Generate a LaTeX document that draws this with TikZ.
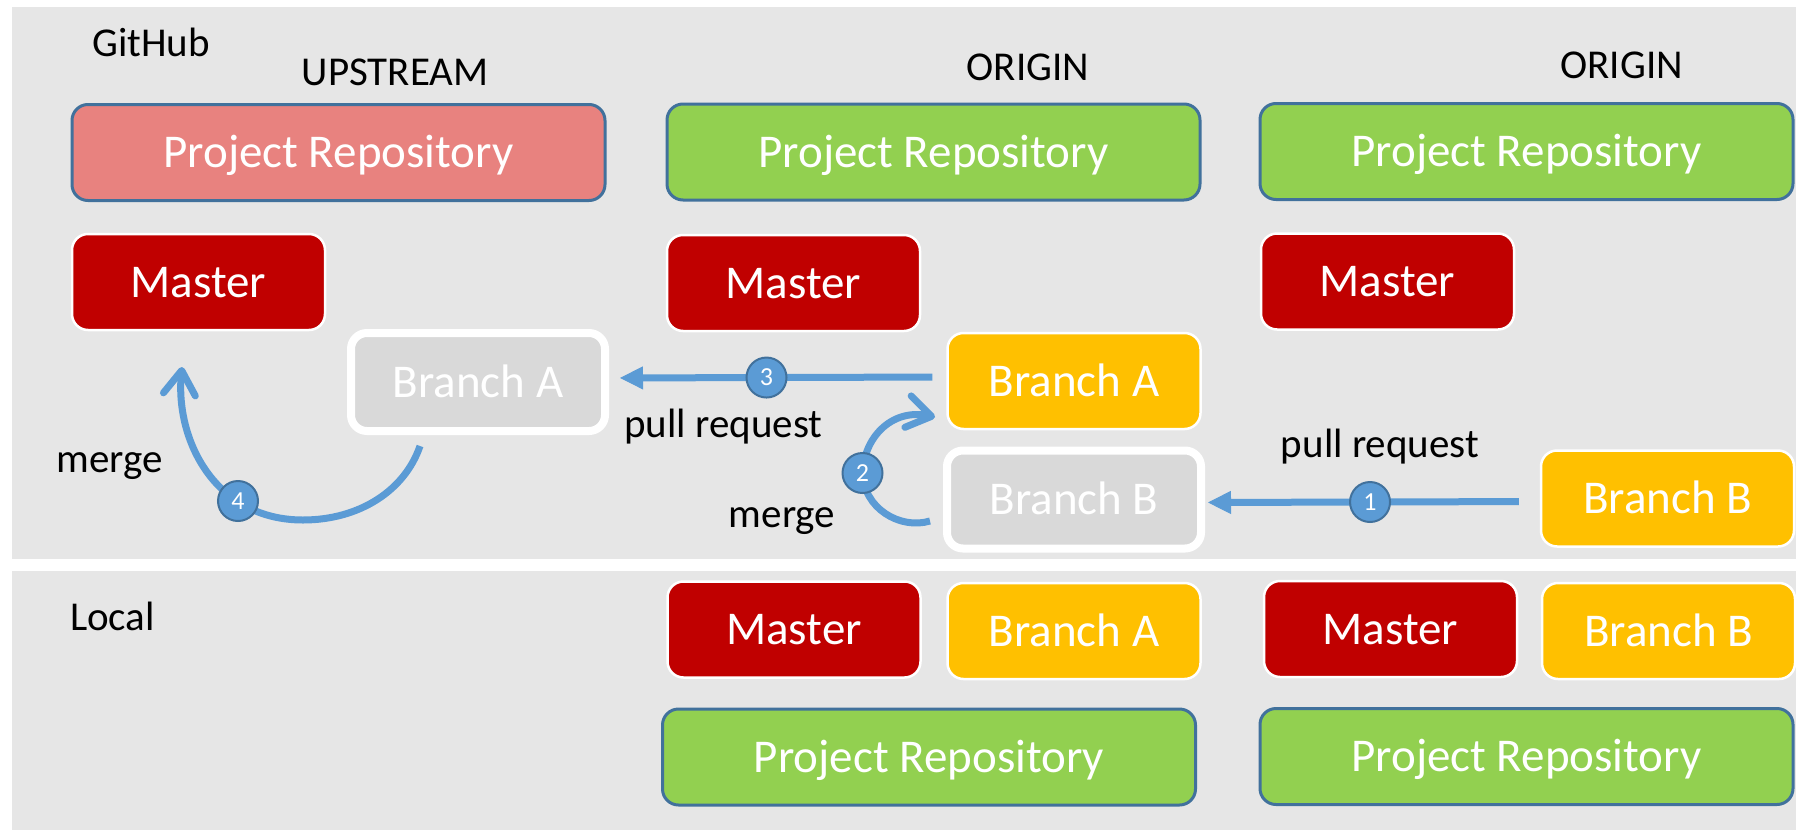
\documentclass[tikz,border=0pt]{standalone}
\usepackage{fontspec}
\setmainfont{Carlito}
\usetikzlibrary{arrows.meta}

\definecolor{panel}{HTML}{E6E6E6}
\definecolor{ghost}{HTML}{D9D9D9}
\definecolor{upstreamred}{HTML}{E8827F}
\definecolor{repogreen}{HTML}{92D050}
\definecolor{masterred}{HTML}{C00000}
\definecolor{branchgold}{HTML}{FFC000}
\definecolor{flowblue}{HTML}{5B9BD5}
\definecolor{edgeblue}{HTML}{41719C}

\tikzset{
  card/.style={rectangle, rounded corners=16pt, inner sep=0pt, text=white,
    font=\fontsize{47pt}{56pt}\selectfont, text height=30pt, text depth=0pt},
  repo/.style={card, draw=edgeblue, line width=3pt, minimum width=533pt, minimum height=96pt},
  upstreamrepo/.style={repo, fill=upstreamred},
  forkrepo/.style={repo, fill=repogreen},
  ref/.style={card, draw=white, line width=2.5pt, minimum width=253pt, minimum height=96pt},
  master/.style={ref, fill=masterred},
  branch/.style={ref, fill=branchgold},
  merged/.style={card, fill=ghost, draw=white, line width=8pt, minimum width=254pt, minimum height=98pt},
  caption/.style={anchor=base, inner sep=0pt, font=\fontsize{41pt}{49pt}\selectfont},
  stepnum/.style={circle, minimum size=40pt, inner sep=0pt, fill=flowblue, draw=edgeblue,
    line width=2pt, text=white, font=\fontsize{26pt}{30pt}\selectfont},
  flow/.style={draw=flowblue, line width=7pt},
  push/.style={flow, -{Triangle[length=23pt,width=23pt,line width=1pt]}},
  fold/.style={flow, -{Straight Barb[length=24pt,width=32pt,round]}},
}

\begin{document}
\begin{tikzpicture}[x=1pt, y=-1pt]
  \useasboundingbox (0,0) rectangle (1796,830);
  \fill[white] (0,0) rectangle (1796,830);

  % the two areas: GitHub and local machine
  \fill[panel] (12,7) rectangle (1796,559);
  \fill[panel] (12,571) rectangle (1796,830);

  % area and column headings
  \node[caption] (github) at (151,56) {GitHub};
  \node[caption] (local) at (112.5,630) {Local};
  \node[caption] (upstream) at (395,85) {UPSTREAM};
  \node[caption] (origin1) at (1028,80) {ORIGIN};
  \node[caption] (origin2) at (1621.6,78) {ORIGIN};

  % repositories on GitHub
  \node[upstreamrepo] (upRepo) at (338.5,152.5) {Project Repository};
  \node[forkrepo] (oaRepo) at (933.5,152) {Project Repository};
  \node[forkrepo] (obRepo) at (1526.5,151.5) {Project Repository};

  % master branches on GitHub
  \node[master] (upMaster) at (198.5,282) {Master};
  \node[master] (oaMaster) at (793.5,283) {Master};
  \node[master] (obMaster) at (1387.5,281.5) {Master};

  % feature branches on GitHub
  \node[merged] (gA) at (478,382) {Branch A};
  \node[branch] (oaA) at (1074,381) {Branch A};
  \node[merged] (gB) at (1074,499.5) {Branch B};
  \node[branch] (obB) at (1667.5,498.5) {Branch B};

  % local clones
  \node[master] (laMaster) at (794,629.5) {Master};
  \node[branch] (laA) at (1074,631) {Branch A};
  \node[master] (lbMaster) at (1390.5,629) {Master};
  \node[branch] (lbB) at (1668.5,631) {Branch B};
  \node[forkrepo] (laRepo) at (929,757) {Project Repository};
  \node[forkrepo] (lbRepo) at (1526.5,756.5) {Project Repository};

  % step 1: pull request of Branch B
  \draw[push, shorten <=21pt, shorten >=3pt]
    ([yshift=-3pt]obB.west) -- ([yshift=-3pt]gB.east)
    node[stepnum, pos=0.507] (s1) {1};
  \node[caption] (pr1) at (1380,457) {pull request};

  % step 2: merge Branch B into Branch A
  \coordinate (m2s) at (930,521);
  \coordinate (m2e) at (935,417);
  \draw[fold] (m2s) .. controls (900,530) and (863,508) .. (863,473)
    .. controls (863,440) and (890,408) .. (m2e);
  \node[stepnum] (s2) at (862.5,473) {2};
  \node[caption] (mg2) at (782,527) {merge};

  % step 3: pull request of Branch A to upstream
  \draw[push, shorten <=14pt, shorten >=11pt]
    ([yshift=4pt]oaA.west) -- ([yshift=4pt]gA.east)
    node[stepnum, pos=0.533] (s3) {3};
  \node[caption] (pr3) at (723.5,437) {pull request};

  % step 4: merge Branch A into upstream master
  \coordinate (m4s) at (420,446);
  \coordinate (m4e) at (182,367);
  \draw[fold] (m4s) .. controls (405,490) and (360,520) .. (303,520)
    .. controls (215,520) and (175,440) .. (m4e);
  \node[stepnum] (s4) at (238,501) {4};
  \node[caption] (mg4) at (109.5,472) {merge};
\end{tikzpicture}
\end{document}
